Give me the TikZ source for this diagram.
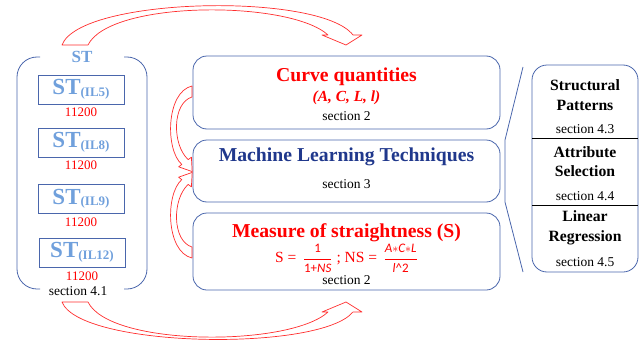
\documentclass[tikz,border=0pt]{standalone}
\usepackage{fontspec}
\setmainfont{Liberation Serif}
\newfontfamily\fracf{Carlito}
\definecolor{bdr}{RGB}{74,102,172}
\definecolor{stblue}{RGB}{112,160,220}
\definecolor{mlblue}{RGB}{32,56,140}
\definecolor{arr}{RGB}{255,45,45}
\begin{document}
\begin{tikzpicture}[x=1pt,y=-1pt,
  box/.style={draw=bdr, line width=0.8pt, rounded corners=14pt, inner sep=0pt},
  stbox/.style={draw=bdr, line width=0.8pt, minimum width=86pt, minimum height=29pt, inner sep=0pt, text=stblue},
  hollow/.style={draw=arr, line width=0.7pt, line join=round},
  txt/.style={inner sep=0pt},
  sec/.style={txt, font=\fontsize{13.5}{15}\selectfont, text=black},
  redn/.style={txt, font=\fontsize{13}{15}\selectfont, text=red},
  big/.style={txt, font=\bfseries\fontsize{19.7}{22}\selectfont},
  rt/.style={txt, align=center, font=\bfseries\fontsize{15.7}{19.5}\selectfont}
]
\useasboundingbox (0,0) rectangle (640,340);

% left container
\draw[bdr, line width=0.8pt, rounded corners=20pt] (40,57) -- (17,57) -- (17,289) -- (40,289);
\draw[bdr, line width=0.8pt, rounded corners=20pt] (124,57) -- (147,57) -- (147,289) -- (124,289);
\node[txt, text=stblue, font=\bfseries\fontsize{17}{17}\selectfont] (stlbl) at (82,57) {ST};
\node[sec] (sec41) at (78,291) {section 4.1};

\newcommand{\stlab}[1]{{\bfseries\fontsize{23}{23}\selectfont ST}{\bfseries\fontsize{13}{13}\selectfont\raisebox{-1.5pt}{(#1)}}}
\node[stbox] (il5) at (81,89.5) {\stlab{IL5}};
\node[redn] (n5) at (81,112) {11200};
\node[stbox] (il8) at (81,142.5) {\stlab{IL8}};
\node[redn] (n8) at (81,165) {11200};
\node[stbox] (il9) at (81,199) {\stlab{IL9}};
\node[redn] (n9) at (81,222) {11200};
\node[stbox] (il12) at (82,252.5) {\stlab{IL12}};
\node[redn] (n12) at (82,276) {11200};

% middle boxes
\node[box, minimum width=307pt, minimum height=73pt] (b1) at (346.5,92.5) {};
\node[box, minimum width=307pt, minimum height=62pt] (b2) at (346.5,171) {};
\node[box, minimum width=307pt, minimum height=77pt] (b3) at (346.5,251.5) {};

\node[big, text=red] (cq) at (346.5,76.5) {Curve quantities};
\node[txt, text=red, font=\bfseries\itshape\fontsize{15.4}{17}\selectfont] (acl) at (346.5,98) {(A, C, L, l)};
\node[sec] (s2a) at (346.5,116) {section 2};
\node[big, text=mlblue] (ml) at (346.5,157) {Machine Learning Techniques};
\node[sec] (s3) at (346.5,184) {section 3};
\node[big, text=red] (ms) at (346.5,233) {Measure of straightness (S)};
\node[txt, text=red, font=\fontsize{15.5}{17}\selectfont] (frm) at (346.5,258.5)
  {S =\, $\displaystyle\frac{\hbox{\fracf\fontsize{13}{13}\selectfont 1}}{\hbox{\fracf\fontsize{13}{13}\selectfont 1+\textit{NS}}}$ ; NS =\, $\displaystyle\frac{\hbox{\fracf\itshape\fontsize{13}{13}\selectfont A$*$C$*$L}}{\hbox{\fracf\fontsize{13}{13}\selectfont \textit{l}\textasciicircum 2}}$};
\node[sec] (s2b) at (346.5,280) {section 2};

% right column
\draw[bdr, line width=0.8pt, rounded corners=15pt] (532,65) rectangle (638,272);
\draw[black, line width=0.7pt] (532,138) -- (638,138);
\draw[black, line width=0.7pt] (532,205) -- (638,205);
\node[rt] (sp) at (585,95) {Structural\\Patterns};
\node[sec] (s43) at (585,129) {section 4.3};
\node[rt] (as) at (585,161.5) {Attribute\\Selection};
\node[sec] (s44) at (585,196) {section 4.4};
\node[rt] (lr) at (585,228) {Linear\\Regression};
\node[sec] (s45) at (585,262) {section 4.5};

% bracket
\draw[bdr, line width=0.8pt] (523,67) -- (505,140) -- (505,202) -- (523,272);

% top curved arrow
\draw[hollow] (62,45) .. controls (80,-3) and (320,-8) .. (353,35) -- (362,35) -- (346,45) -- (322,35) -- (328,35)
  .. controls (290,0) and (110,0) .. (88,45) -- cycle;
% bottom curved arrow
\draw[hollow] (62,302) .. controls (80,348) and (320,352) .. (353,312) -- (362,312) -- (346,302) -- (322,312) -- (328,312)
  .. controls (290,347) and (110,347) .. (88,302) -- cycle;
% left curved arrows
\draw[hollow] (192,86) .. controls (166,92) and (165,150) .. (181.8,164.4) -- (178.6,166.8) -- (192.2,171.6) -- (191.4,157.2) -- (188.2,159.6)
  .. controls (172,145) and (172,103) .. (192,97) -- cycle;
\draw[hollow] (192,258) .. controls (166,252) and (165,194) .. (181.8,179.6) -- (178.6,177.2) -- (192.2,172.4) -- (191.4,186.8) -- (188.2,184.4)
  .. controls (172,199) and (172,241) .. (192,247) -- cycle;
\end{tikzpicture}
\end{document}
